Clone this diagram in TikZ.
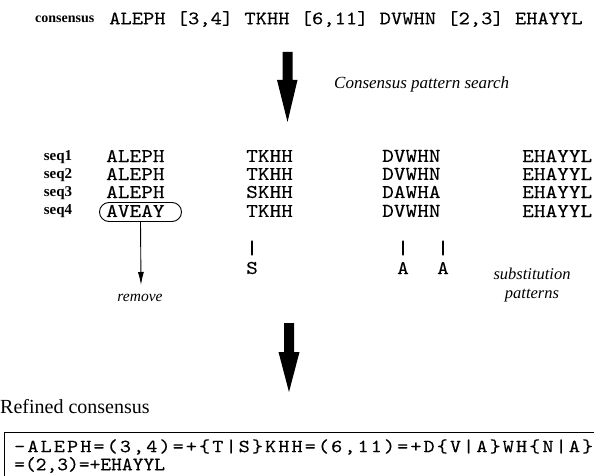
\documentclass[tikz,border=0pt]{standalone}
\usepackage{fontspec}
\setmainfont{Liberation Serif}
\usetikzlibrary{arrows.meta}
\newfontfamily\topmono[FakeStretch=1.13,FakeBold=0.2]{lmmono10-regular.otf}
\newfontfamily\rowmono[FakeStretch=1.14,FakeBold=0.2]{lmmono10-regular.otf}
\newfontfamily\widemono[FakeStretch=1.15,FakeBold=0.2,LetterSpace=11]{lmmono10-regular.otf}
\newfontfamily\narrowmono[FakeStretch=1.08,FakeBold=0.2]{lmmono10-regular.otf}
\begin{document}
\begin{tikzpicture}[x=1pt,y=-1pt,
  seqtxt/.style={font=\rowmono\fontsize{19.5}{22}\selectfont, inner sep=0pt, anchor=west},
  toptxt/.style={font=\topmono\fontsize{19}{22}\selectfont, inner sep=0pt, anchor=west},
  lbl/.style={font=\bfseries\fontsize{15}{17}\selectfont, inner sep=0pt},
  note/.style={font=\itshape\fontsize{16.5}{19}\selectfont, inner sep=0pt, align=center},
  bigarrow/.style={fill=black},
  subst/.style={font=\rowmono\fontsize{19.5}{22}\selectfont, inner sep=0pt}
]
\useasboundingbox (0,0) rectangle (602,476);
% top consensus line
\node[lbl, font=\bfseries\fontsize{14}{16}\selectfont, anchor=west] (cons) at (35,19) {consensus};
\node[toptxt] (pattern) at (109,19) {ALEPH [3,4] TKHH [6,11] DVWHN [2,3] EHAYYL};
% first big arrow
\fill[bigarrow] (282.5,52) -- (292.5,52) -- (292.5,80) -- (297.5,80) -- (287.5,122) -- (277,80) -- (282.5,80) -- cycle;
\node[note, font=\itshape\fontsize{17}{19}\selectfont, anchor=west] (search) at (334,84) {Consensus pattern search};
% sequence labels
\node[lbl] (s1) at (58,157) {seq1};
\node[lbl] (s2) at (58,175) {seq2};
\node[lbl] (s3) at (58,193) {seq3};
\node[lbl] (s4) at (58,211) {seq4};
% columns
\node[seqtxt] (a1) at (106,156) {ALEPH};
\node[seqtxt] (a2) at (106,174) {ALEPH};
\node[seqtxt] (a3) at (106,192) {ALEPH};
\node[seqtxt] (a4) at (106,211) {AVEAY};
\node[seqtxt] (b1) at (246,156) {TKHH};
\node[seqtxt] (b2) at (246,174) {TKHH};
\node[seqtxt] (b3) at (246,192) {SKHH};
\node[seqtxt] (b4) at (246,211) {TKHH};
\node[seqtxt] (c1) at (382,156) {DVWHN};
\node[seqtxt] (c2) at (382,174) {DVWHN};
\node[seqtxt] (c3) at (382,192) {DAWHA};
\node[seqtxt] (c4) at (382,211) {DVWHN};
\node[seqtxt] (d1) at (522,156) {EHAYYL};
\node[seqtxt] (d2) at (522,174) {EHAYYL};
\node[seqtxt] (d3) at (522,192) {EHAYYL};
\node[seqtxt] (d4) at (522,211) {EHAYYL};
% oval around AVEAY
\node[draw, line width=0.9pt, rounded corners=9.5pt, minimum width=82pt, minimum height=19pt, inner sep=0pt] (oval) at (140.5,212) {};
\coordinate (rmtip) at (141,285);
\draw[line width=0.9pt, -{Latex[length=13pt,width=6pt]}] (oval.south) -- (rmtip);
\node[note, font=\itshape\fontsize{15.5}{18}\selectfont] (remove) at (140,298) {remove};
% substitution marks
\node[subst] (bar1) at (252,248) {|};
\node[subst] (sub1) at (252,268) {S};
\node[subst] (bar2) at (403,248) {|};
\node[subst] (sub2) at (403,268) {A};
\node[subst] (bar3) at (443,248) {|};
\node[subst] (sub3) at (443,268) {A};
\node[note, align=center] (subpat) at (532,285) {substitution\\patterns};
% second big arrow
\fill[bigarrow] (284,323) -- (294,323) -- (294,352) -- (299.5,352) -- (289,392) -- (278.5,352) -- (284,352) -- cycle;
% refined consensus
\node[font=\fontsize{20}{22}\selectfont, anchor=base west, inner sep=0pt] (refined) at (0,413) {Refined consensus};
\coordinate (boxbl) at (4,476);
\coordinate (boxtl) at (4,432);
\coordinate (boxtr) at (594,432);
\draw[line width=1pt] (boxbl) -- (boxtl) -- (boxtr);
\node[font=\widemono\fontsize{18.5}{20}\selectfont, inner sep=0pt, anchor=west] (ref1) at (14,447) {-ALEPH=(3,4)=+\{T|S\}KHH=(6,11)=+D\{V|A\}WH\{N|A\}};
\node[font=\narrowmono\fontsize{19}{20}\selectfont, inner sep=0pt, anchor=west] (ref2) at (14,465) {=(2,3)=+EHAYYL};
\end{tikzpicture}
\end{document}
